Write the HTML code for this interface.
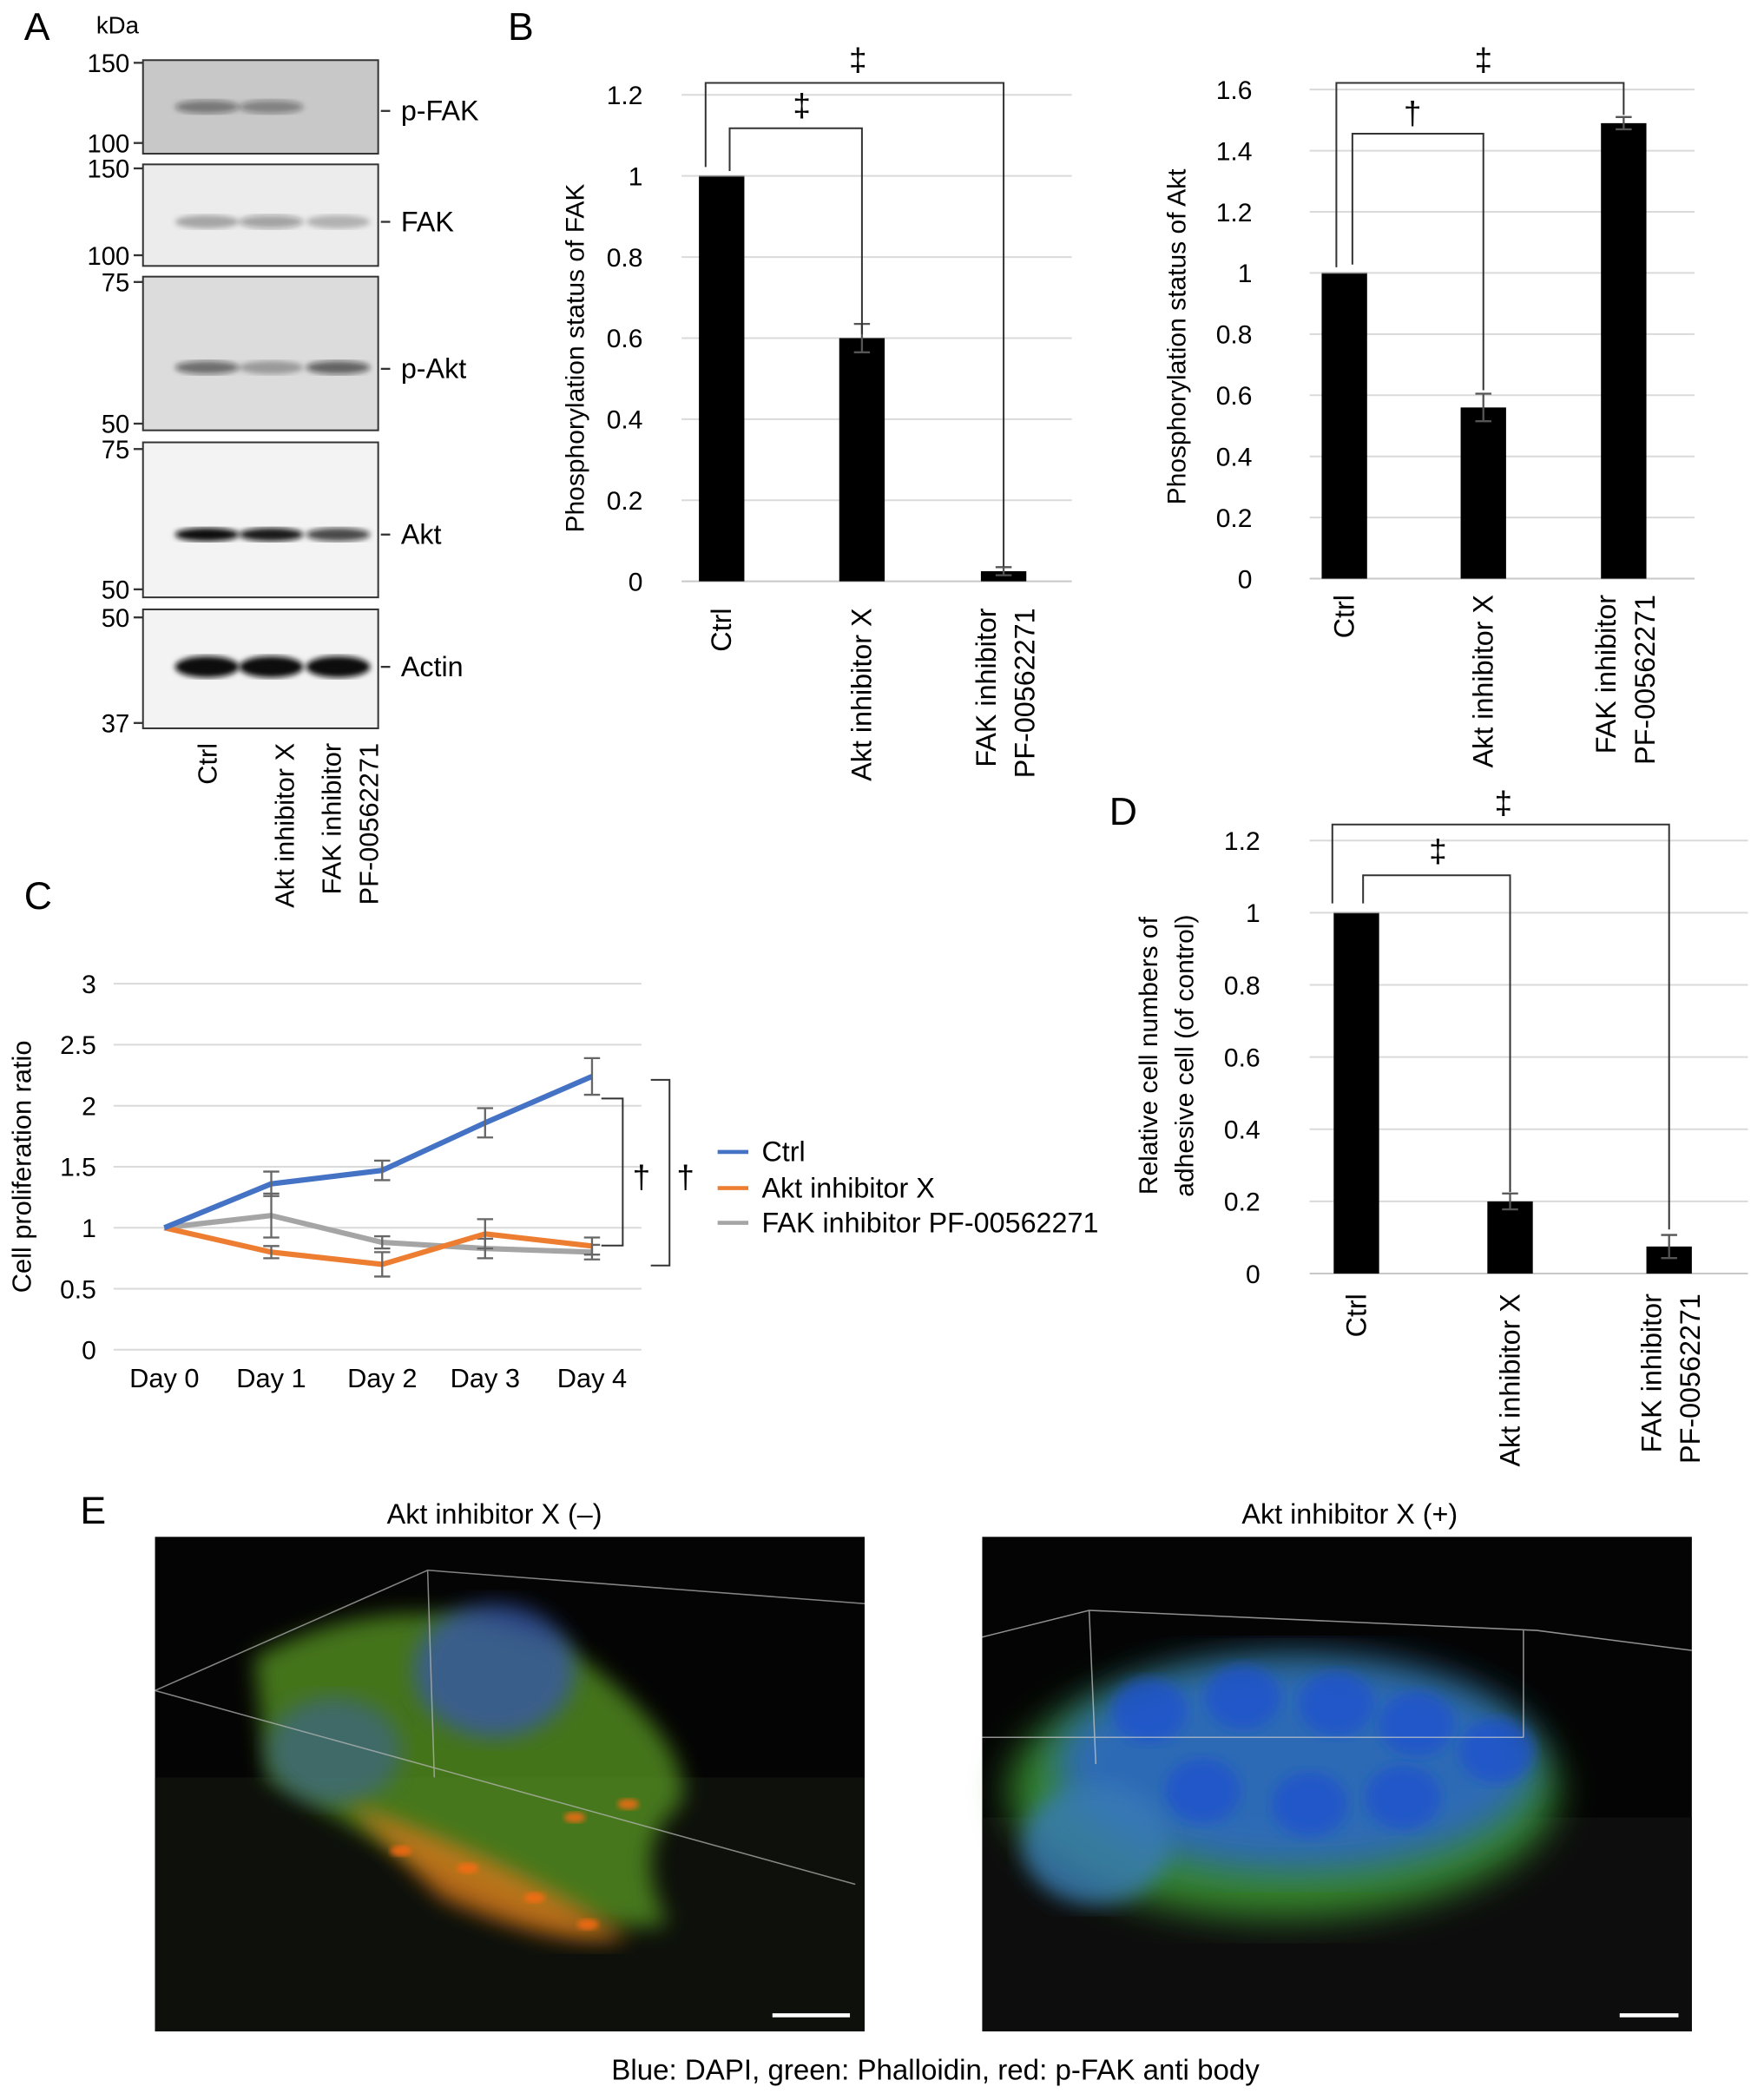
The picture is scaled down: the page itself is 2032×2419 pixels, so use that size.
<!DOCTYPE html>
<html><head><meta charset="utf-8"><style>
html,body{margin:0;padding:0;background:#fff;}
svg{display:block;font-family:"Liberation Sans",Arial,sans-serif;}
</style></head><body>
<svg id="fig" width="2032" height="2419" viewBox="0 0 1320 1571.4" xmlns="http://www.w3.org/2000/svg">
<defs>
<filter id="blur2"><feGaussianBlur stdDeviation="2"/></filter>
<filter id="blur5"><feGaussianBlur stdDeviation="5"/></filter>
<filter id="blur8"><feGaussianBlur stdDeviation="8"/></filter>
<filter id="blur14"><feGaussianBlur stdDeviation="14"/></filter>
</defs>
<g id="panelA" font-size="19"></g>
<g id="panelB1"></g>
<g id="panelB2"></g>
<g id="panelC"></g>
<g id="panelD"></g>
<g id="panelE"></g>
</svg>
<script>
const NS='http://www.w3.org/2000/svg';
function mk(parent,tag,attrs,text){const e=document.createElementNS(NS,tag);for(const k in attrs)e.setAttribute(k,attrs[k]);if(text!==undefined)e.textContent=text;parent.appendChild(e);return e;}

// ---------- data ----------
const barCategories=['Ctrl','Akt inhibitor X','FAK inhibitor PF-00562271'];
const fakValues=[1,0.6,0.025];
const fakErrors=[0,0.035,0.01];
const fakTicks=['0','0.2','0.4','0.6','0.8','1','1.2'];
const aktValues=[1,0.56,1.49];
const aktErrors=[0,0.045,0.02];
const aktTicks=['0','0.2','0.4','0.6','0.8','1','1.2','1.4','1.6'];
const adhValues=[1,0.2,0.075];
const adhErrors=[0,0.022,0.032];
const adhTicks=['0','0.2','0.4','0.6','0.8','1','1.2'];
const days=['Day 0','Day 1','Day 2','Day 3','Day 4'];
const ctrlSeries=[1,1.36,1.47,1.86,2.24];
const ctrlErr=[0,0.1,0.08,0.12,0.15];
const aktSeries=[1,0.8,0.7,0.95,0.85];
const aktSerErr=[0,0.05,0.1,0.12,0.07];
const fakSeries=[1,1.1,0.88,0.83,0.8];
const fakSerErr=[0,0.18,0.05,0.08,0.06];
const procTicks=['0','0.5','1','1.5','2','2.5','3'];

const TICK=19.5, LAB=21;

// ---------- Panel A ----------
const A=document.getElementById('panelA');
let t=mk(A,'text',{x:18,y:30,'font-size':29},'A');

mk(A,'text',{x:72,y:25,'font-size':18},'kDa');
const blots=[
 {y0:45,y1:115,top:'150',bot:'100',tY:47,bY:107,name:'p-FAK',ly:83,bg:'#c8c8c8',band:[0.45,0.4,0],bandY:80},
 {y0:123,y1:199,top:'150',bot:'100',tY:126,bY:191,name:'FAK',ly:166,bg:'#ececec',band:[0.3,0.35,0.25],bandY:166},
 {y0:207,y1:322,top:'75',bot:'50',tY:211,bY:317,name:'p-Akt',ly:276,bg:'#dcdcdc',band:[0.55,0.3,0.6],bandY:275},
 {y0:331,y1:447,top:'75',bot:'50',tY:336,bY:441,name:'Akt',ly:400,bg:'#f3f3f3',band:[1,0.95,0.75],bandY:400},
 {y0:456,y1:545,top:'50',bot:'37',tY:462,bY:541,name:'Actin',ly:499,bg:'#f3f3f3',band:[1,1,1],bandY:499}];
const laneX=[155,203,253];
blots.forEach(b=>{
 const g=mk(A,'g',{});
 
 mk(g,'rect',{x:107,y:b.y0,width:176,height:b.y1-b.y0,fill:b.bg,stroke:'#333','stroke-width':1.3});
 b.band.forEach((o,i)=>{if(o>0)mk(g,'ellipse',{cx:laneX[i],cy:b.bandY,rx:24,ry:b.name==='Actin'?8:5,fill:'#111','fill-opacity':o,filter:'url(#blur2)'});});
 mk(g,'line',{x1:100,x2:107,y1:b.tY,y2:b.tY,stroke:'#333','stroke-width':1.5});
 mk(g,'line',{x1:100,x2:107,y1:b.bY,y2:b.bY,stroke:'#333','stroke-width':1.5});
 mk(g,'text',{x:97,y:b.tY+7,'text-anchor':'end'},b.top);
 mk(g,'text',{x:97,y:b.bY+7,'text-anchor':'end'},b.bot);
 mk(g,'line',{x1:285,x2:292,y1:b.ly,y2:b.ly,stroke:'#333','stroke-width':1.5});
 mk(g,'text',{x:300,y:b.ly+7,'font-size':21},b.name);
});
[['Ctrl',null,155],['Akt inhibitor X',null,213],['FAK inhibitor','PF-00562271',248]].forEach(([l1,l2,x])=>{
 const g=mk(A,'g',{transform:`translate(${x},556) rotate(-90)`,'font-size':20});
 
 mk(g,'text',{x:0,y:7,'text-anchor':'end'},l1);
 if(l2)mk(g,'text',{x:0,y:35,'text-anchor':'end'},l2);
});

// ---------- bar chart helper ----------
function barChart(G,cfg){
 const yS=v=>cfg.y0-(v/cfg.max)*(cfg.y0-cfg.yTop);
 cfg.ticks.forEach(tk=>{const v=parseFloat(tk),y=yS(v);
  mk(G,'line',{x1:cfg.xl,x2:cfg.xr,y1:y,y2:y,stroke:v===0?'#c8c8c8':'#dadada','stroke-width':1.3});
  mk(G,'text',{x:cfg.tx,y:y+7,'text-anchor':'end','font-size':TICK},tk);});
 cfg.vals.forEach((v,i)=>{const cx=cfg.xs[i];
  const r=mk(G,'rect',{x:cx-17,y:yS(v),width:34,height:yS(0)-yS(v),fill:'#000'});
  
  const e=cfg.errs[i];
  if(e>0){mk(G,'path',{d:`M${cx},${yS(v+e)}V${yS(v-e)}M${cx-6},${yS(v+e)}H${cx+6}M${cx-6},${yS(v-e)}H${cx+6}`,stroke:'#555','stroke-width':1.5,fill:'none'});}
  else mk(G,'line',{x1:cx-17,x2:cx+17,y1:yS(v),y2:yS(v),stroke:'#999','stroke-width':1});
  const lg=mk(G,'g',{transform:`translate(${cx},${cfg.labY}) rotate(-90)`,'font-size':LAB});
  
  const parts=barCategories[i]==='FAK inhibitor PF-00562271'?['FAK inhibitor','PF-00562271']:[barCategories[i]];
  parts.forEach((p,k)=>mk(lg,'text',{x:0,y:(parts.length===2?-6:7)+k*29,'text-anchor':'end'},p));
 });
 const yt=mk(G,'g',{transform:`translate(${cfg.titleX},${cfg.titleY}) rotate(-90)`,'font-size':19.5});
 
 cfg.title.forEach((s,k)=>mk(yt,'text',{x:0,y:k*27,'text-anchor':'middle'},s));
 cfg.brackets.forEach(b=>{
  mk(G,'path',{d:`M${b.x1},${b.ya}V${b.y}H${b.x2}V${b.yb}`,stroke:'#333','stroke-width':1.3,fill:'none'});
  mk(G,'text',{x:b.sx,y:b.sy,'text-anchor':'middle','font-size':24},b.s);
 });
 return yS;
}
const B1=document.getElementById('panelB1');
mk(B1,'text',{x:380,y:30,'font-size':29},'B');
barChart(B1,{y0:435,yTop:71,max:1.2,xl:510,xr:802,tx:481,xs:[540,645,751],vals:fakValues,errs:fakErrors,ticks:fakTicks,labY:455,
 titleX:437,titleY:268,title:['Phosphorylation status of FAK'],
 brackets:[{x1:528,x2:751,y:62,ya:125,yb:424,s:'‡',sx:642,sy:53},{x1:546,x2:645,y:96,ya:128,yb:250,s:'‡',sx:600,sy:87}]});
const B2=document.getElementById('panelB2');
barChart(B2,{y0:433,yTop:67,max:1.6,xl:980,xr:1268,tx:937,xs:[1006,1110,1215],vals:aktValues,errs:aktErrors,ticks:aktTicks,labY:445,
 titleX:887,titleY:252,title:['Phosphorylation status of Akt'],
 brackets:[{x1:1000,x2:1215,y:62,ya:200,yb:86,s:'‡',sx:1110,sy:53},{x1:1012,x2:1110,y:100,ya:198,yb:292,s:'†',sx:1057,sy:93}]});
const D=document.getElementById('panelD');
mk(D,'text',{x:830,y:617,'font-size':29},'D');
barChart(D,{y0:953,yTop:629,max:1.2,xl:980,xr:1308,tx:943,xs:[1015,1130,1249],vals:adhValues,errs:adhErrors,ticks:adhTicks,labY:968,
 titleX:866,titleY:790,title:['Relative cell numbers of','adhesive cell (of control)'],
 brackets:[{x1:997,x2:1249,y:617,ya:676,yb:920,s:'‡',sx:1125,sy:609},{x1:1020,x2:1130,y:655,ya:676,yb:892,s:'‡',sx:1076,sy:645}]});

// ---------- Panel C ----------
const C=document.getElementById('panelC');
mk(C,'text',{x:18,y:680,'font-size':29},'C');
const dayX=[123,203,286,363,443];
const yC=v=>1010-v*91.3;
procTicks.forEach(tk=>{const v=parseFloat(tk),y=yC(v);
 mk(C,'line',{x1:85,x2:480,y1:y,y2:y,stroke:'#dadada','stroke-width':1.3});
 mk(C,'text',{x:72,y:y+7,'text-anchor':'end','font-size':TICK},tk);});
days.forEach((d,i)=>mk(C,'text',{x:dayX[i],y:1038,'text-anchor':'middle','font-size':20},d));
const ct=mk(C,'text',{transform:'translate(23,873) rotate(-90)','text-anchor':'middle','font-size':20},'Cell proliferation ratio');

[[fakSeries,fakSerErr,'#a5a5a5','fak-inhibitor-line'],[aktSeries,aktSerErr,'#ed7d31','akt-inhibitor-line'],[ctrlSeries,ctrlErr,'#4472c4','ctrl-line']].forEach(([s,e,c,n])=>{
 const p=mk(C,'polyline',{points:s.map((v,i)=>dayX[i]+','+yC(v)).join(' '),fill:'none',stroke:c,'stroke-width':4,'stroke-linejoin':'round'});
 
 s.forEach((v,i)=>{if(e[i]>0){const x=dayX[i];mk(C,'path',{d:`M${x},${yC(v+e[i])}V${yC(v-e[i])}M${x-6},${yC(v+e[i])}H${x+6}M${x-6},${yC(v-e[i])}H${x+6}`,stroke:'#666','stroke-width':1.5,fill:'none'});}});
});
[['Ctrl','#4472c4',862],['Akt inhibitor X','#ed7d31',889],['FAK inhibitor PF-00562271','#a5a5a5',915]].forEach(([l,c,y])=>{
 const g=mk(C,'g',{});
 mk(g,'line',{x1:537,x2:560,y1:y,y2:y,stroke:c,'stroke-width':3});
 mk(g,'text',{x:570,y:y+7,'font-size':21},l);});
mk(C,'path',{d:'M450,822H466V932H450',stroke:'#333','stroke-width':1.3,fill:'none'});
mk(C,'text',{x:480,y:889,'text-anchor':'middle','font-size':24},'†');
mk(C,'path',{d:'M487,808H501V947H487',stroke:'#333','stroke-width':1.3,fill:'none'});
mk(C,'text',{x:513,y:889,'text-anchor':'middle','font-size':24},'†');

// ---------- Panel E ----------
const E=document.getElementById('panelE');
mk(E,'text',{x:60,y:1140,'font-size':29},'E');
mk(E,'text',{x:370,y:1140,'text-anchor':'middle','font-size':21},'Akt inhibitor X (–)');
mk(E,'text',{x:1010,y:1140,'text-anchor':'middle','font-size':21},'Akt inhibitor X (+)');
const L=mk(E,'g',{});
mk(L,'rect',{x:116,y:1150,width:531,height:370,fill:'#040404'});
mk(L,'rect',{x:116,y:1330,width:531,height:190,fill:'#0d100b'});
mk(L,'path',{d:'M190,1240 Q300,1180 420,1230 Q520,1300 510,1350 Q470,1380 500,1440 Q430,1450 330,1400 Q250,1360 200,1330 Z',fill:'#5a9a22','fill-opacity':0.75,filter:'url(#blur8)'});
mk(L,'ellipse',{cx:370,cy:1250,rx:60,ry:50,fill:'#3456b0','fill-opacity':0.75,filter:'url(#blur8)'});
mk(L,'ellipse',{cx:250,cy:1310,rx:50,ry:40,fill:'#3a60a8','fill-opacity':0.55,filter:'url(#blur8)'});
mk(L,'path',{d:'M260,1350 Q380,1390 470,1450 Q420,1460 330,1420 Z',fill:'#d8781c','fill-opacity':0.8,filter:'url(#blur8)'});
[[300,1385],[350,1398],[400,1420],[440,1440],[430,1360],[470,1350]].forEach(([x,y])=>mk(L,'ellipse',{cx:x,cy:y,rx:8,ry:4,fill:'#ff6a10','fill-opacity':0.8,filter:'url(#blur2)'}));
mk(L,'path',{d:'M116,1265 L320,1175 L647,1200 M320,1175 L325,1330 M116,1265 L640,1410',stroke:'#bbb','stroke-width':1,fill:'none','stroke-opacity':0.7});
mk(L,'line',{x1:578,x2:636,y1:1508,y2:1508,stroke:'#fff','stroke-width':3});
const R=mk(E,'g',{});
mk(R,'rect',{x:735,y:1150,width:531,height:370,fill:'#040404'});
mk(R,'rect',{x:735,y:1360,width:531,height:160,fill:'#0d0d0d'});
mk(R,'ellipse',{cx:960,cy:1340,rx:205,ry:95,fill:'#3c9a32','fill-opacity':0.85,filter:'url(#blur14)'});
mk(R,'ellipse',{cx:970,cy:1320,rx:180,ry:80,fill:'#2a64d8','fill-opacity':0.8,filter:'url(#blur14)'});
[[860,1280],[930,1270],[1000,1275],[1060,1290],[1120,1310],[900,1340],[980,1350],[1050,1345]].forEach(([x,y])=>mk(R,'ellipse',{cx:x,cy:y,rx:28,ry:24,fill:'#1e50d0','fill-opacity':0.7,filter:'url(#blur5)'}));
mk(R,'ellipse',{cx:820,cy:1380,rx:55,ry:45,fill:'#3a7bb8','fill-opacity':0.8,filter:'url(#blur8)'});
mk(R,'path',{d:'M735,1225 L815,1205 L1150,1220 L1266,1235 M815,1205 L820,1320 M735,1300 L1140,1300 M1140,1220 L1140,1300',stroke:'#ccc','stroke-width':1,fill:'none','stroke-opacity':0.7});
mk(R,'line',{x1:1212,x2:1256,y1:1508,y2:1508,stroke:'#fff','stroke-width':3});
const cap=mk(E,'text',{x:700,y:1556,'text-anchor':'middle','font-size':21.5},'Blue: DAPI, green: Phalloidin, red: p-FAK anti body');

</script>
</body></html>
